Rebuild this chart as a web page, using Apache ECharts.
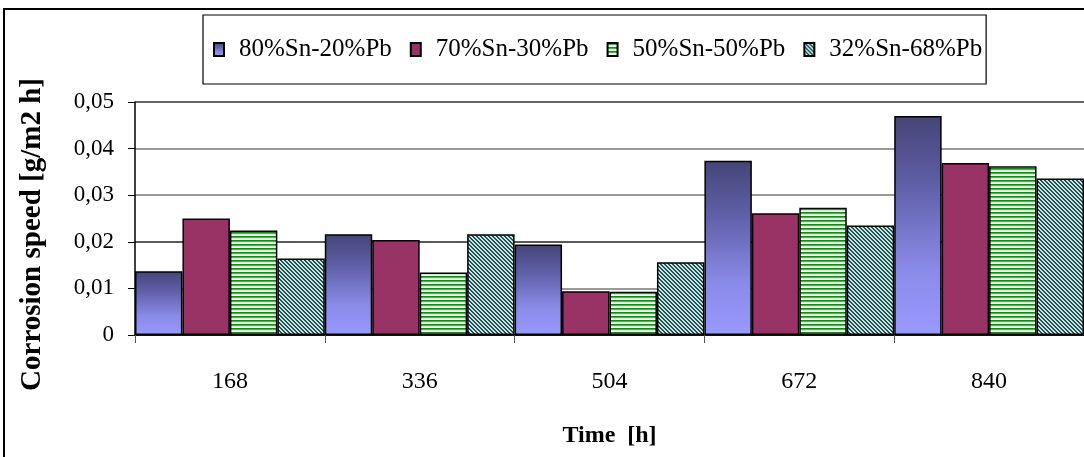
<!DOCTYPE html>
<html>
<head>
<meta charset="utf-8">
<script src="https://cdn.jsdelivr.net/npm/echarts@6/dist/echarts.min.js"></script>
<style>
html,body{margin:0;padding:0;background:#fff;}
#c{width:1084px;height:457px;}
</style>
</head>
<body>
<div id="c"></div>
<script>
const categories = ['168', '336', '504', '672', '840'];
const seriesNames = ['80%Sn-20%Pb', '70%Sn-30%Pb', '50%Sn-50%Pb', '32%Sn-68%Pb'];
const sn80 = [0.0137, 0.0216, 0.0194, 0.0374, 0.0470];
const sn70 = [0.0250, 0.0204, 0.0094, 0.0261, 0.0369];
const sn50 = [0.0224, 0.0134, 0.0093, 0.0273, 0.0362];
const sn32 = [0.0164, 0.0216, 0.0156, 0.0235, 0.0336];
const yTicks = [0, 0.01, 0.02, 0.03, 0.04, 0.05];

function hStripes() {
  const c = document.createElement('canvas');
  c.width = 4; c.height = 4;
  const g = c.getContext('2d');
  g.fillStyle = '#ffffff'; g.fillRect(0, 0, 4, 4);
  g.fillStyle = '#108c10'; g.fillRect(0, 0, 4, 1);
  g.fillStyle = '#4cb44c'; g.fillRect(0, 1, 4, 1);
  g.fillStyle = '#d0f0d0'; g.fillRect(0, 2, 4, 1);
  return c;
}
function dStripes() {
  const n = 4;
  const c = document.createElement('canvas');
  c.width = n; c.height = n;
  const g = c.getContext('2d');
  const img = g.createImageData(n, n);
  for (let y = 0; y < n; y++) for (let x = 0; x < n; x++) {
    const k = ((x - y) % n + n) % n;
    const col = k < 2 ? [60, 72, 72] : [176, 240, 240];
    const i = (y * n + x) * 4;
    img.data[i] = col[0]; img.data[i + 1] = col[1]; img.data[i + 2] = col[2]; img.data[i + 3] = 255;
  }
  g.putImageData(img, 0, 0);
  return c;
}

const chart = echarts.init(document.getElementById('c'), null, {renderer: 'canvas'});
const serif = '"Liberation Serif", "DejaVu Serif", serif';
const border = {borderColor: '#000', borderWidth: 1.5};

const option = {
  backgroundColor: '#fff',
  animation: false,
  textStyle: {fontFamily: serif, color: '#000'},
  graphic: [{
    type: 'rect', silent: true, z: -1,
    shape: {x: 4, y: 9, width: 1200, height: 600},
    style: {fill: 'none', stroke: '#000', lineWidth: 2}
  }],
  legend: {
    left: 203, top: 15,
    padding: [22, 4, 22, 10],
    borderColor: '#000', borderWidth: 1.2,
    icon: 'rect',
    itemWidth: 10, itemHeight: 13, itemGap: 18,
    textStyle: {fontFamily: serif, fontSize: 25, color: '#000', padding: [0, 0, 0, 10]},
    data: seriesNames
  },
  grid: {left: 135, right: -1, top: 102, bottom: 122, containLabel: false},
  xAxis: {
    type: 'category', data: categories,
    name: 'Time  [h]', nameLocation: 'middle', nameGap: 89,
    nameTextStyle: {fontFamily: serif, fontSize: 24, fontWeight: 'bold', color: '#000'},
    axisLine: {lineStyle: {color: '#000', width: 1.5}},
    axisTick: {show: true, length: 8, lineStyle: {color: '#555'}},
    axisLabel: {fontFamily: serif, fontSize: 24, color: '#000', margin: 35}
  },
  yAxis: {
    type: 'value', min: yTicks[0], max: yTicks[yTicks.length - 1], interval: 0.01,
    name: 'Corrosion speed [g/m2 h]', nameLocation: 'middle', nameGap: 88, nameRotate: 90,
    nameTextStyle: {fontFamily: serif, fontSize: 29, fontWeight: 'bold', color: '#000', padding: [0, 0, 0, -32]},
    axisLine: {show: true, lineStyle: {color: '#000', width: 1.5}},
    axisTick: {show: true, length: 7, lineStyle: {color: '#000'}},
    axisLabel: {fontFamily: serif, fontSize: 23, color: '#000', margin: 21,
      formatter: v => v === 0 ? '0' : v.toFixed(2).replace('.', ',')},
    splitLine: {show: true, lineStyle: {color: ['#000', '#777', '#222', '#777', '#777', '#333'], width: 1.5}}
  },
  series: [
    {name: seriesNames[0], type: 'bar', data: sn80, barGap: '0%', barCategoryGap: '0%',
      itemStyle: Object.assign({color: new echarts.graphic.LinearGradient(0, 0, 0, 1, [
        {offset: 0, color: '#454577'}, {offset: 0.3, color: '#5e5ea6'},
        {offset: 0.7, color: '#8a8ae8'}, {offset: 1, color: '#9999ff'}])}, border)},
    {name: seriesNames[1], type: 'bar', data: sn70,
      itemStyle: Object.assign({color: '#993366'}, border)},
    {name: seriesNames[2], type: 'bar', data: sn50,
      itemStyle: Object.assign({color: {image: hStripes(), repeat: 'repeat'}}, border)},
    {name: seriesNames[3], type: 'bar', data: sn32,
      itemStyle: Object.assign({color: {image: dStripes(), repeat: 'repeat'}}, border)}
  ]
};
chart.setOption(option);
</script>
</body>
</html>
